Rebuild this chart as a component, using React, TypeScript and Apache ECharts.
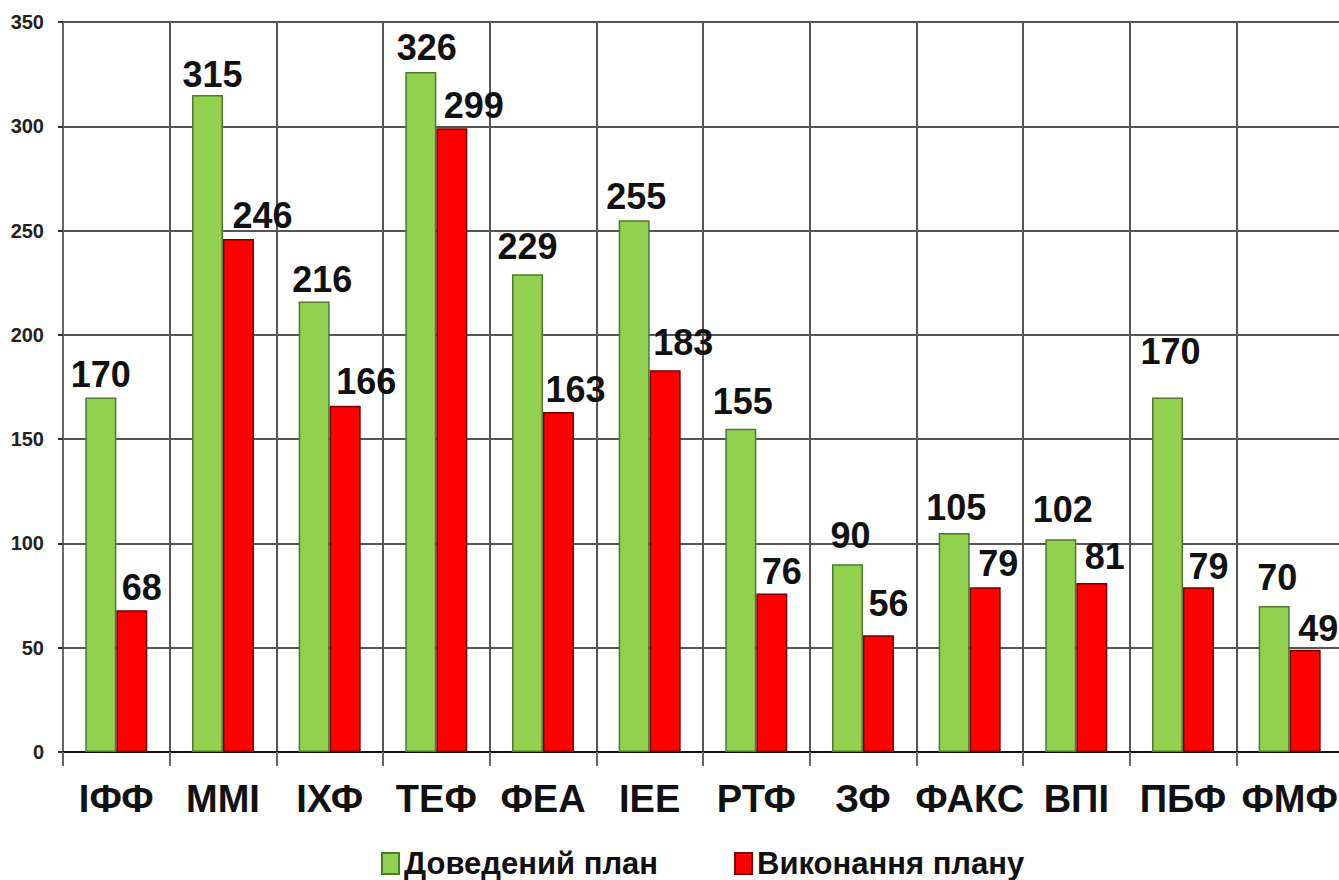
import React, { useEffect, useRef } from "react";
import * as echarts from "echarts";

const categories = ["ІФФ", "ММІ", "ІХФ", "ТЕФ", "ФЕА", "ІЕЕ", "РТФ", "ЗФ", "ФАКС", "ВПІ", "ПБФ", "ФМФ"];
const planned = [170, 315, 216, 326, 229, 255, 155, 90, 105, 102, 170, 70];
const done = [68, 246, 166, 299, 163, 183, 76, 56, 79, 81, 79, 49];
const seriesNames = ["Доведений план", "Виконання плану"];
const yMin = 0;
const yMax = 350;
const yStep = 50;

// label nudges (style only)
const plannedDx = [0, 5, 8, 6, 0, 2, 2, 3, 2, 2, 3, 3];
const plannedGap = [12, 10, 11, 14, 17, 13, 16, 18, 15, 19, 35, 18];
const doneDx = [10, 24, 21, 22, 17, 18, 10, 10, 13, 13, 10, 13];
const doneGap = [12, 12, 13, 12, 12, 17, 11, 21, 13, 16, 10, 10];

const FONT = "'Liberation Sans', Arial, sans-serif";

export default function App() {
  const ref = useRef<HTMLDivElement>(null);
  useEffect(() => {
    if (!ref.current) return;
    const chart = echarts.init(ref.current, undefined, { renderer: "svg" });
    const labelBase = {
      show: true,
      position: "top",
      distance: 5,
      fontSize: 36,
      fontWeight: "bold",
      color: "#111",
      fontFamily: FONT,
    };
    chart.setOption({
      animation: false,
      backgroundColor: "#fff",
      grid: { left: 63, top: 22, bottom: 128, right: 17, containLabel: false },
      legend: {
        data: seriesNames,
        left: 376,
        top: 843,
        icon: "rect",
        itemWidth: 17,
        itemHeight: 21,
        itemGap: 76,
        textStyle: { fontSize: 31, fontWeight: "bold", color: "#111", fontFamily: FONT },
      },
      xAxis: {
        type: "category",
        data: categories,
        axisLine: { show: true, lineStyle: { color: "#111", width: 2 } },
        axisTick: { show: true, length: 14, lineStyle: { color: "#666", width: 2 } },
        axisLabel: { margin: 28, fontSize: 38, fontWeight: "bold", color: "#111", fontFamily: FONT, interval: 0 },
        splitLine: { show: true, lineStyle: { color: "#555", width: 2 } },
      },
      yAxis: {
        type: "value",
        min: yMin,
        max: yMax,
        interval: yStep,
        axisLine: { show: true, lineStyle: { color: "#666", width: 2 } },
        axisTick: { show: true, length: 5, lineStyle: { color: "#333", width: 2 } },
        axisLabel: { margin: 19, fontSize: 20, fontWeight: "bold", color: "#222", fontFamily: FONT },
        splitLine: { show: true, lineStyle: { color: "#555", width: 2 } },
      },
      series: [
        {
          type: "bar",
          name: seriesNames[0],
          barWidth: 31,
          barGap: "0%",
          itemStyle: { color: "#92D050", borderColor: "#4F7A28", borderWidth: 1.5 },
          label: labelBase,
          data: planned.map((v, i) => ({ value: v, label: { offset: [plannedDx[i], -(plannedGap[i] - 12)] } })),
        },
        {
          type: "bar",
          name: seriesNames[1],
          barWidth: 31,
          barGap: "0%",
          itemStyle: { color: "#FF0000", borderColor: "#7A0000", borderWidth: 1.5 },
          label: labelBase,
          data: done.map((v, i) => ({ value: v, label: { offset: [doneDx[i], -(doneGap[i] - 12)] } })),
        },
      ],
    });
    return () => chart.dispose();
  }, []);
  return (
    <div style={{ position: "fixed", left: 0, top: 0, width: 1339, height: 880, overflow: "hidden", background: "#fff" }}>
      <div ref={ref} style={{ width: 1360, height: 880 }} />
    </div>
  );
}
